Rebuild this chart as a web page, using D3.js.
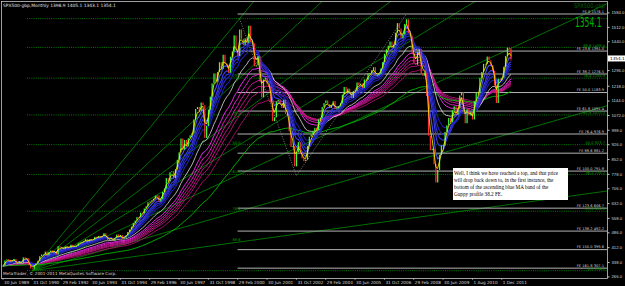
<!DOCTYPE html>
<html>
<head>
<meta charset="utf-8">
<script src="https://cdn.jsdelivr.net/npm/d3@7"></script>
<style>
  body { margin: 0; background: #000; }
  svg { display: block; font-family: Tahoma, "DejaVu Sans", sans-serif; }
</style>
</head>
<body>
<div id="chart"></div>
<script>
// monthly closes, first bar = Jun 1989
var closes = [
  317.98, 346.08, 351.45, 349.15, 340.36, 345.99, 353.40,
  329.08, 331.89, 339.94, 330.80, 361.23, 358.02, 356.15, 322.56, 306.05, 304.00, 322.22, 330.22,
  343.93, 367.07, 375.22, 375.34, 389.83, 371.16, 387.81, 395.43, 387.86, 392.46, 375.22, 417.09,
  408.79, 412.70, 403.69, 414.95, 415.35, 408.14, 424.21, 414.03, 417.80, 418.68, 431.35, 435.71,
  438.78, 443.38, 451.67, 440.19, 450.19, 450.53, 448.13, 463.56, 458.93, 467.83, 461.79, 466.45,
  481.61, 467.14, 445.77, 450.91, 456.50, 444.27, 458.26, 475.49, 462.69, 472.35, 453.69, 459.27,
  470.42, 487.39, 500.71, 514.71, 533.40, 544.75, 562.06, 561.88, 584.41, 581.50, 605.37, 615.93,
  636.02, 640.43, 645.50, 654.17, 669.12, 670.63, 639.95, 651.99, 687.31, 705.27, 757.02, 740.74,
  786.16, 790.82, 757.12, 801.34, 848.28, 885.14, 954.29, 899.47, 947.28, 914.62, 955.40, 970.43,
  980.28, 1049.34, 1101.75, 1111.75, 1090.82, 1133.84, 1120.67, 957.28, 1017.01, 1098.67, 1163.63, 1229.23,
  1279.64, 1238.33, 1286.37, 1335.18, 1301.84, 1372.71, 1328.72, 1320.41, 1282.71, 1362.93, 1388.91, 1469.25,
  1394.46, 1366.42, 1498.58, 1452.43, 1420.60, 1454.60, 1430.83, 1517.68, 1436.51, 1429.40, 1314.95, 1320.28,
  1366.01, 1239.94, 1160.33, 1249.46, 1255.82, 1224.38, 1211.23, 1133.58, 1040.94, 1059.78, 1139.45, 1148.08,
  1130.20, 1106.73, 1147.39, 1076.92, 1067.14, 989.82, 911.62, 916.07, 815.28, 885.76, 936.31, 879.82,
  855.70, 841.15, 848.18, 916.92, 963.59, 974.50, 990.31, 1008.01, 995.97, 1050.71, 1058.20, 1111.92,
  1131.13, 1144.94, 1126.21, 1107.30, 1120.68, 1140.84, 1101.72, 1104.24, 1114.58, 1130.20, 1173.82, 1211.92,
  1181.27, 1203.60, 1180.59, 1156.85, 1191.50, 1191.33, 1234.18, 1220.33, 1228.81, 1207.01, 1249.48, 1248.29,
  1280.08, 1280.66, 1294.83, 1310.61, 1270.09, 1270.20, 1276.66, 1303.82, 1335.85, 1377.94, 1400.63, 1418.30,
  1438.24, 1406.82, 1420.86, 1482.37, 1530.62, 1503.35, 1455.27, 1473.99, 1526.75, 1549.38, 1481.14, 1468.36,
  1378.55, 1330.63, 1322.70, 1385.59, 1400.38, 1280.00, 1267.38, 1282.83, 1166.36, 968.75, 896.24, 903.25,
  825.88, 735.09, 797.87, 872.81, 919.14, 919.32, 987.48, 1020.62, 1057.08, 1036.19, 1095.63, 1115.10,
  1073.87, 1104.49, 1169.43, 1186.69, 1089.41, 1030.71, 1101.60, 1070.00, 1085.00,
  1049.33, 1141.20, 1183.26, 1180.55, 1257.64,
  1286.12, 1327.22, 1325.83, 1363.61, 1345.20, 1320.64, 1292.28, 1218.89, 1131.42, 1253.30, 1246.96, 1257.60,
  1312.41, 1365.68, 1408.47, 1397.91, 1354.1
];
var lastBar = {open: 1398.9, high: 1405.1, low: 1343.1, close: 1354.1};

var timeLabels = ["30 Jun 1989", "31 Oct 1990", "29 Feb 1992", "30 Jun 1993", "31 Oct 1994",
  "29 Feb 1996", "30 Jun 1997", "31 Oct 1998", "29 Feb 2000", "30 Jun 2001", "31 Oct 2002",
  "29 Feb 2004", "30 Jun 2005", "31 Oct 2006", "29 Feb 2008", "30 Jun 2009", "1 Aug 2010", "1 Dec 2011"];
var timeLabelBars = [0, 16, 32, 48, 64, 80, 96, 112, 128, 144, 160, 176, 192, 208, 224, 240, 256, 272];

var priceTicks = [1584, 1512, 1440, 1296, 1218, 1144, 1072, 998, 926, 852, 778, 706, 632, 558, 486, 412, 338, 266];

// Guppy groups
var shortPeriods = [5, 8, 10, 12, 15];
var longPeriods = [30, 35, 40, 45, 50, 60];
var shortColors = ["#5050ff", "#3c3cf0", "#3030dc", "#2626c4", "#1e1eac"];
var longColors = ["#ff30ff", "#f020d0", "#e01aa8", "#d01890", "#c01480", "#b01070"];

// Fibo expansion (grey): A = 2000 high, B = 2002 low, C = 2007 high
var feLevels = [0, 23.6, 38.2, 50.0, 61.8, 76.4, 88.6, 100.0, 123.6, 138.2, 150.0, 161.8];
var fePoints = [{bar: 129, v: 1552.9}, {bar: 160, v: 768.6}, {bar: 220, v: 1576.1}];

// Fibo retracement (green dotted): 1990 low to 2000 high, levels counted from the low
var fibLevels = [0, 23.6, 38.2, 50.0, 61.8, 76.4, 88.6, 100.0];
var fibPoints = [{bar: 16, v: 294.5}, {bar: 129, v: 1552.9}];

// Fibo fan (green), same anchors, levels counted from the high
var fanLevels = [0, 23.6, 38.2, 50.0, 61.8, 76.4, 88.6];

var noteLines = ["Well, I think we have reached a top, and that price",
  "will drop back down to, in the first instance, the",
  "bottom of the ascending blue MA band of the",
  "Guppy profile 38.2 FE."];

var W = 625, H = 286;
var plot = {left: 1, top: 1, right: 607, bottom: 278};

var svg = d3.select("#chart").append("svg")
  .attr("width", W).attr("height", H);
svg.append("rect").attr("width", W).attr("height", H).attr("fill", "#000");

var x = d3.scaleLinear().domain([0, 272]).range([3, 501.8]);
var y = d3.scaleLinear().domain([263, 1631]).range([277, 3]);

svg.append("clipPath").attr("id", "clip").append("rect")
  .attr("x", plot.left).attr("y", plot.top)
  .attr("width", plot.right - plot.left).attr("height", plot.bottom - plot.top);
var g = svg.append("g").attr("clip-path", "url(#clip)");
var labels = svg.append("g");

function ema(arr, n) {
  var k = 2 / (n + 1), out = [], prev = arr[0];
  arr.forEach(function(v, i) {
    prev = i === 0 ? v : v * k + prev * (1 - k);
    out.push(prev);
  });
  return out;
}
var line = d3.line().x(function(d, i) { return x(i); }).y(function(d) { return y(d); });

// fibo retracement, green dotted
var fibRange = fibPoints[1].v - fibPoints[0].v;
fibLevels.forEach(function(l) {
  var v = fibPoints[0].v + fibRange * l / 100;
  g.append("line").attr("x1", 27).attr("x2", plot.right).attr("y1", y(v)).attr("y2", y(v))
    .attr("stroke", "#00a000").attr("stroke-width", 0.8).attr("stroke-dasharray", "1,1.2");
  if (l < 100) {
    labels.append("text").attr("x", 605).attr("y", y(v) - 0.8).attr("text-anchor", "end")
      .attr("font-size", 3.6).attr("fill", "#00a000").text(l.toFixed(1) + " " + v.toFixed(1));
  }
});

// fibo fan
fanLevels.forEach(function(l) {
  var v = fibPoints[1].v - fibRange * l / 100;
  var slope = (v - fibPoints[0].v) / (fibPoints[1].bar - fibPoints[0].bar);
  var endBar = 340;
  g.append("line")
    .attr("x1", x(fibPoints[0].bar)).attr("y1", y(fibPoints[0].v))
    .attr("x2", x(endBar)).attr("y2", y(fibPoints[0].v + slope * (endBar - fibPoints[0].bar)))
    .attr("stroke", "#008c00").attr("stroke-width", 0.8);
  if (l > 0) {
    labels.append("text").attr("x", x(fibPoints[1].bar) - 7).attr("y", y(v) - 1)
      .attr("font-size", 3.6).attr("fill", "#00a000").text(l.toFixed(1));
  }
});

// Fibo expansion, grey solid
var feRange = fePoints[0].v - fePoints[1].v;
feLevels.forEach(function(l) {
  var v = fePoints[2].v - feRange * l / 100;
  g.append("line").attr("x1", x(fePoints[0].bar) - 2).attr("x2", plot.right)
    .attr("y1", y(v)).attr("y2", y(v))
    .attr("stroke", "#b4b4b4").attr("stroke-width", 1);
  labels.append("text").attr("x", 604).attr("y", y(v) - 1.3).attr("text-anchor", "end")
    .attr("font-size", 3.6).attr("fill", "#d0d0d0")
    .text("FE " + (l === 0 ? "0" : l.toFixed(1)) + " " + v.toFixed(1));
});
// dotted zig-zag between the FE points
g.append("path")
  .attr("d", d3.line().x(function(d) { return x(d.bar); }).y(function(d) { return y(d.v); })(fePoints))
  .attr("fill", "none").attr("stroke", "#b0b0b0").attr("stroke-width", 0.7).attr("stroke-dasharray", "1,1.5");

// long group
longPeriods.forEach(function(p, i) {
  g.append("path").attr("d", line(ema(closes, p)))
    .attr("fill", "none").attr("stroke", longColors[i]).attr("stroke-width", 0.9);
});
// slow green and white lines
g.append("path").attr("d", line(ema(closes, 100)))
  .attr("fill", "none").attr("stroke", "#00c000").attr("stroke-width", 0.9);
g.append("path").attr("d", line(ema(closes, 22)))
  .attr("fill", "none").attr("stroke", "#e0e0e0").attr("stroke-width", 0.8);
// short group
shortPeriods.forEach(function(p, i) {
  g.append("path").attr("d", line(ema(closes, p)))
    .attr("fill", "none").attr("stroke", shortColors[i]).attr("stroke-width", 1.1);
});

// candles (open = previous close)
closes.forEach(function(c, i) {
  var o = i === 0 ? c : closes[i - 1];
  if (i === closes.length - 1) o = lastBar.open;
  g.append("rect").attr("x", x(i) - 0.5).attr("width", 1.2)
    .attr("y", y(Math.max(o, c))).attr("height", Math.max(0.8, Math.abs(y(o) - y(c))))
    .attr("fill", c >= o ? "#40ff40" : "#ff3030");
});
g.append("line").attr("x1", x(closes.length - 1)).attr("x2", x(closes.length - 1))
  .attr("y1", y(lastBar.high)).attr("y2", y(lastBar.low)).attr("stroke", "#ff3030").attr("stroke-width", 0.8);
g.append("path").attr("d", line(ema(closes, 3)))
  .attr("fill", "none").attr("stroke", "#ffff00").attr("stroke-width", 0.8);

// frame and axes
svg.append("rect").attr("x", plot.left + 0.5).attr("y", plot.top + 0.5)
  .attr("width", plot.right - plot.left).attr("height", plot.bottom - plot.top)
  .attr("fill", "none").attr("stroke", "#c8c8c8").attr("stroke-width", 0.8);

var yAxis = d3.axisRight(y).tickValues(priceTicks).tickSize(2).tickFormat(d3.format(".1f"));
svg.append("g").attr("transform", "translate(" + (plot.right + 0.5) + ",0)").call(yAxis)
  .call(function(a) {
    a.select(".domain").remove();
    a.selectAll("line").attr("stroke", "#c8c8c8");
    a.selectAll("text").attr("fill", "#d8d8d8").attr("font-size", 4.2).attr("x", 4);
  });

timeLabelBars.forEach(function(b, i) {
  var xx = x(b);
  svg.append("line").attr("x1", xx).attr("x2", xx).attr("y1", plot.bottom).attr("y2", plot.bottom + 2)
    .attr("stroke", "#c8c8c8").attr("stroke-width", 0.6);
  svg.append("text").attr("x", xx + 1).attr("y", plot.bottom + 6)
    .attr("font-size", 4.2).attr("fill", "#d8d8d8").text(timeLabels[i]);
});

// current price box
var cy = y(lastBar.close);
svg.append("rect").attr("x", plot.right + 1).attr("y", cy - 3).attr("width", 17).attr("height", 6).attr("fill", "#fff");
svg.append("text").attr("x", plot.right + 3).attr("y", cy + 1.6).attr("font-size", 4.2).attr("fill", "#000")
  .text(lastBar.close.toFixed(1));

// header texts
svg.append("text").attr("x", 3).attr("y", 7).attr("font-size", 4.4).attr("fill", "#e0e0e0")
  .text("SPX500-gbp,Monthly  " + [lastBar.open, lastBar.high, lastBar.low, lastBar.close].map(function(v) { return v.toFixed(1); }).join(" "));
svg.append("text").attr("transform", "translate(574,8) scale(0.78,1)").attr("font-size", 6.5)
  .attr("fill", "#006000").text("SPX500-gbp");
svg.append("text").attr("transform", "translate(575,26.5) scale(0.56,1)").attr("font-size", 13.5)
  .attr("fill", "#00b000").text(lastBar.close.toFixed(1));
svg.append("text").attr("x", 3).attr("y", 275).attr("font-size", 4.2).attr("fill", "#d8d8d8")
  .text("MetaTrader, \u00a9 2001-2011 MetaQuotes Software Corp.");

// note box
svg.append("rect").attr("x", 453).attr("y", 168).attr("width", 115).attr("height", 32).attr("fill", "#fff");
noteLines.forEach(function(t, i) {
  svg.append("text").attr("x", 454).attr("y", 175 + i * 7).attr("font-size", 5.2)
    .attr("font-family", "'Liberation Serif', serif").attr("fill", "#000").text(t);
});
</script>
</body>
</html>
